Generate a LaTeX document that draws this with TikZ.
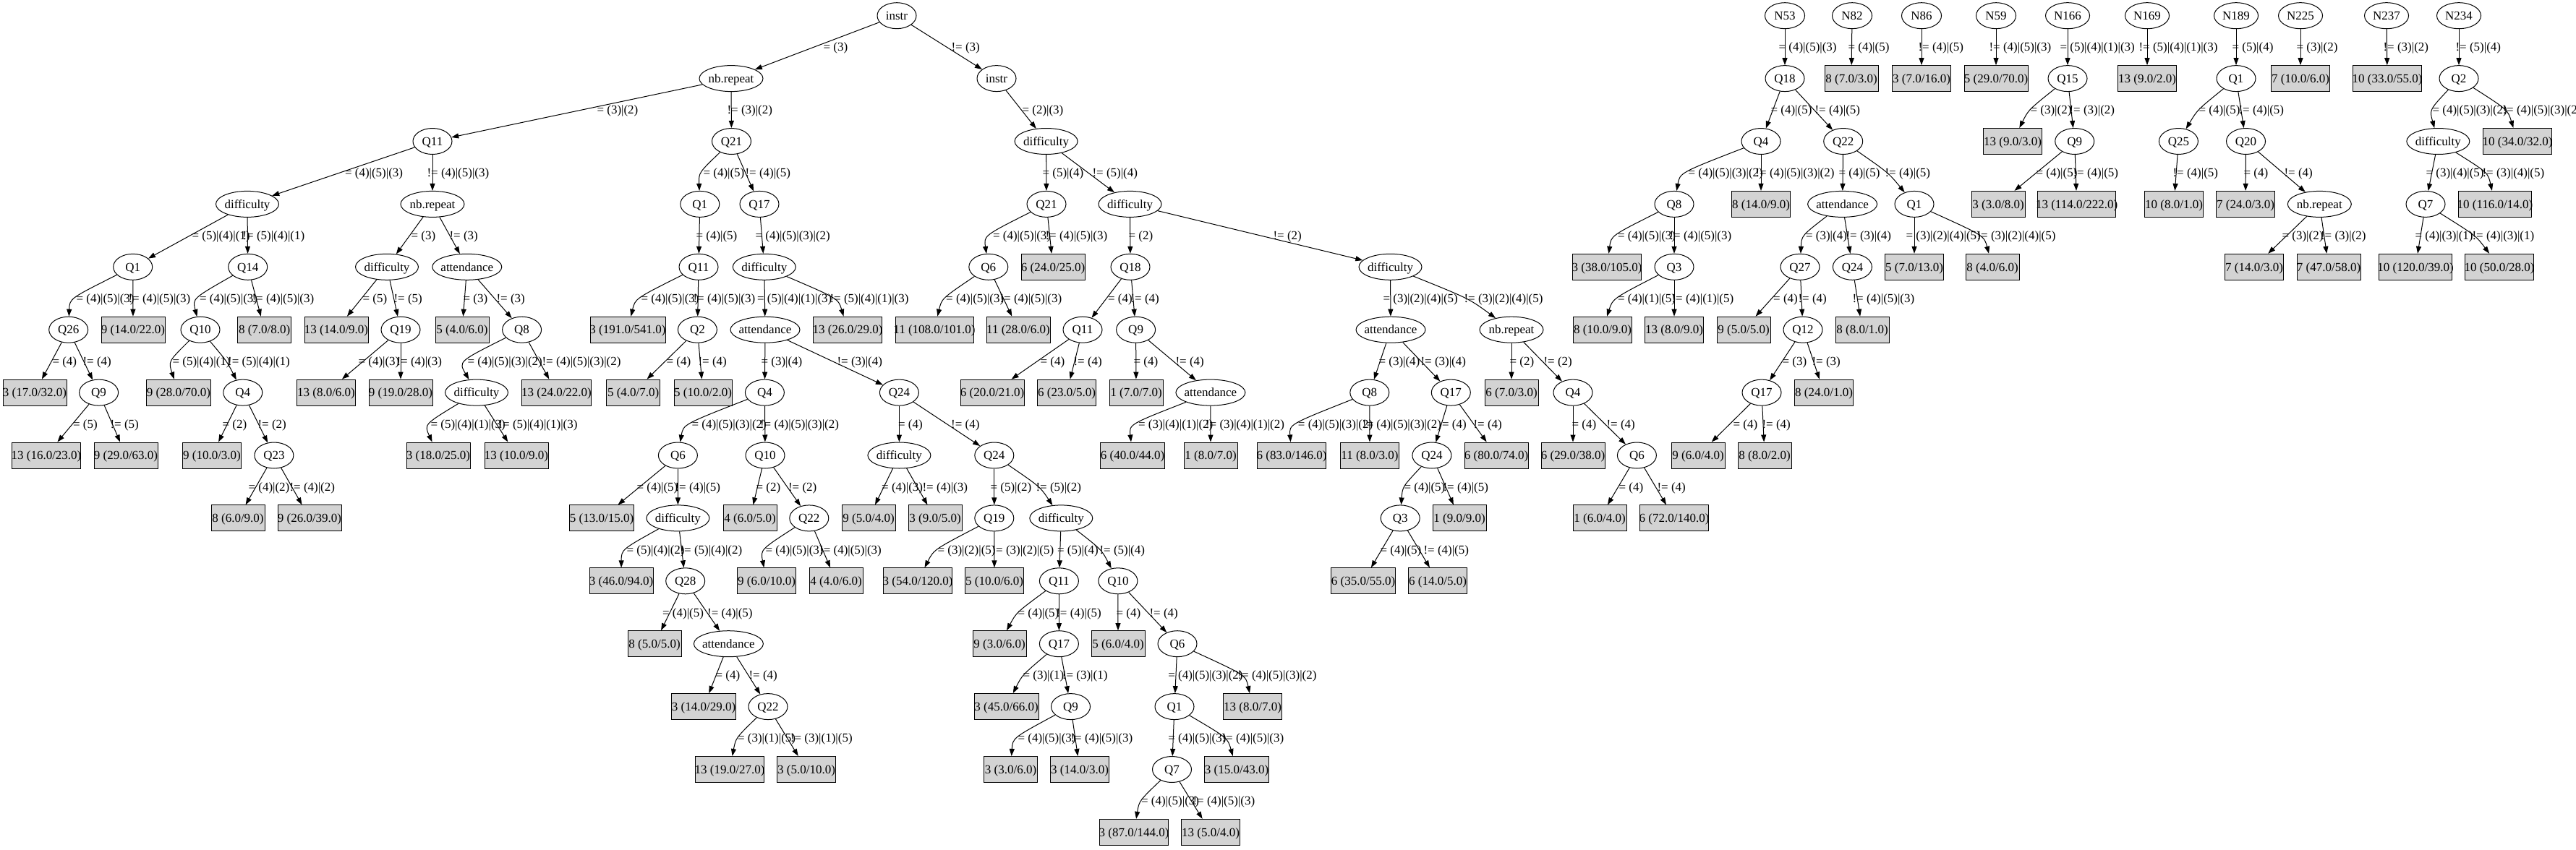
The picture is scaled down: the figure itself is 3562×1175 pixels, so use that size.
\documentclass[tikz,border=0pt]{standalone}
\usepackage{fontspec}
\setmainfont{Liberation Serif}
\usetikzlibrary{shapes.geometric,arrows.meta,calc}
\definecolor{leafgray}{RGB}{211,211,211}
\tikzset{
  base/.style={font=\fontsize{17}{20}\selectfont, text height=11.5pt, text depth=0pt, inner sep=0pt, line width=1pt},
  qn/.style={base, ellipse, draw, minimum height=36pt, minimum width=54pt},
  lf/.style={base, rectangle, draw, fill=leafgray, minimum height=36pt},
  lbl/.style={base, anchor=west},
  arr/.style={line width=1pt, -{Triangle[length=10pt,width=7pt]}},
}
\newcommand\EN[4]{\node[qn,minimum width=#4pt] (#1) at (#2) {\makebox[0pt]{#3}};}
\newcommand\LF[4]{\node[lf,minimum width=#4pt] (#1) at (#2) {\makebox[0pt]{#3}};}
\newcommand\SE[5]{\draw[arr] (#1) -- (#2); \node[lbl] (L#2) at (#3,#4) {#5};}
\newcommand\CE[6]{\coordinate (M#2) at (#3,#4); \draw[arr] (#1) .. controls ($1.3333*(M#2)-0.16667*(#1)-0.16667*(#2)$) .. (#2); \node[lbl] (L#2) at (#5,#4) {#6};}
\begin{document}
\begin{tikzpicture}[x=1pt,y=-1pt]
\useasboundingbox (0,0) rectangle (3562,1175);
% level 0
\EN{r}{1240,21.7}{instr}{54}
\EN{a53}{2468,21.7}{N53}{55}
\EN{a82}{2561,21.7}{N82}{55}
\EN{a86}{2657,21.7}{N86}{55}
\EN{a59}{2760,21.7}{N59}{55}
\EN{a166}{2859,21.7}{N166}{61}
\EN{a169}{2969,21.7}{N169}{61}
\EN{a189}{3092,21.7}{N189}{61}
\EN{a225}{3181,21.7}{N225}{61}
\EN{a237}{3300,21.7}{N237}{61}
\EN{a234}{3400,21.7}{N234}{61}
% level 1
\EN{b1}{1011,108.6}{nb.repeat}{88}
\EN{b2}{1378,108.6}{instr}{54}
\EN{b3}{2468,108.6}{Q18}{54}
\LF{b4}{2560,108.6}{8 (7.0/3.0)}{74}
\LF{b5}{2657,108.6}{3 (7.0/16.0)}{81}
\LF{b6}{2760,108.6}{5 (29.0/70.0)}{88}
\EN{b7}{2859,108.6}{Q15}{54}
\LF{b8}{2969,108.6}{13 (9.0/2.0)}{81}
\EN{b9}{3092,108.6}{Q1}{54}
\LF{b10}{3181,108.6}{7 (10.0/6.0)}{81}
\LF{b11}{3301,108.6}{10 (33.0/55.0)}{95}
\EN{b12}{3400,108.6}{Q2}{54}
% level 2
\EN{c1}{598,195.5}{Q11}{54}
\EN{c2}{1011.5,195.5}{Q21}{54}
\EN{c3}{1446.6,195.5}{difficulty}{87}
\EN{c4}{2435,195.5}{Q4}{54}
\EN{c5}{2548.7,195.5}{Q22}{54}
\LF{c6}{2783,195.5}{13 (9.0/3.0)}{81}
\EN{c7}{2868.7,195.5}{Q9}{54}
\EN{c8}{3012.4,195.5}{Q25}{54}
\EN{c9}{3105.5,195.5}{Q20}{54}
\EN{c10}{3371.3,195.5}{difficulty}{87}
\LF{c11}{3481,195.5}{10 (34.0/32.0)}{95}
% level 3
\EN{d1}{342,282.4}{difficulty}{87}
\EN{d2}{598,282.4}{nb.repeat}{88}
\EN{d3}{967.8,282.4}{Q1}{54}
\EN{d4}{1050,282.4}{Q17}{54}
\EN{d5}{1447,282.4}{Q21}{54}
\EN{d6}{1562.5,282.4}{difficulty}{87}
\EN{d7}{2315,282.4}{Q8}{54}
\LF{d8}{2435,282.4}{8 (14.0/9.0)}{81}
\EN{d9}{2547.6,282.4}{attendance}{96}
\EN{d10}{2647,282.4}{Q1}{54}
\LF{d11}{2763,282.4}{3 (3.0/8.0)}{74}
\LF{d12}{2871.6,282.4}{13 (114.0/222.0)}{108}
\LF{d13}{3006,282.4}{10 (8.0/1.0)}{81}
\LF{d14}{3105,282.4}{7 (24.0/3.0)}{81}
\EN{d15}{3207.3,282.4}{nb.repeat}{88}
\EN{d16}{3354,282.4}{Q7}{54}
\LF{d17}{3450,282.4}{10 (116.0/14.0)}{101}
% level 4
\EN{e1}{183.7,369.3}{Q1}{54}
\EN{e2}{342.7,369.3}{Q14}{54}
\EN{e3}{535,369.3}{difficulty}{87}
\EN{e4}{645.8,369.3}{attendance}{96}
\EN{e5}{966,369.3}{Q11}{54}
\EN{e6}{1056.8,369.3}{difficulty}{87}
\EN{e7}{1366.8,369.3}{Q6}{54}
\LF{e8}{1456,369.3}{6 (24.0/25.0)}{88}
\EN{e9}{1563,369.3}{Q18}{54}
\EN{e10}{1922.5,369.3}{difficulty}{87}
\LF{e11}{2222,369.3}{3 (38.0/105.0)}{95}
\EN{e12}{2315,369.3}{Q3}{54}
\EN{e13}{2489,369.3}{Q27}{54}
\EN{e14}{2561.4,369.3}{Q24}{54}
\LF{e15}{2647,369.3}{5 (7.0/13.0)}{81}
\LF{e16}{2755,369.3}{8 (4.0/6.0)}{74}
\LF{e17}{3117,369.3}{7 (14.0/3.0)}{81}
\LF{e18}{3220,369.3}{7 (47.0/58.0)}{88}
\LF{e19}{3340,369.3}{10 (120.0/39.0)}{101}
\LF{e20}{3456,369.3}{10 (50.0/28.0)}{95}
% level 5
\EN{f1}{94.7,456.2}{Q26}{54}
\LF{f2}{184,456.2}{9 (14.0/22.0)}{88}
\EN{f3}{277,456.2}{Q10}{54}
\LF{f4}{365.7,456.2}{8 (7.0/8.0)}{74}
\LF{f5}{465,456.2}{13 (14.0/9.0)}{88}
\EN{f6}{554,456.2}{Q19}{54}
\LF{f7}{639,456.2}{5 (4.0/6.0)}{74}
\EN{f8}{721.6,456.2}{Q8}{54}
\LF{f9}{868,456.2}{3 (191.0/541.0)}{104}
\EN{f10}{964.4,456.2}{Q2}{54}
\EN{f11}{1058,456.2}{attendance}{96}
\LF{f12}{1172,456.2}{13 (26.0/29.0)}{95}
\LF{f13}{1292,456.2}{11 (108.0/101.0)}{108}
\LF{f14}{1408,456.2}{11 (28.0/6.0)}{88}
\EN{f15}{1497,456.2}{Q11}{54}
\EN{f16}{1570.6,456.2}{Q9}{54}
\EN{f17}{1923,456.2}{attendance}{96}
\EN{f18}{2090,456.2}{nb.repeat}{88}
\LF{f19}{2216,456.2}{8 (10.0/9.0)}{81}
\LF{f20}{2315,456.2}{13 (8.0/9.0)}{81}
\LF{f21}{2411,456.2}{9 (5.0/5.0)}{74}
\EN{f22}{2493,456.2}{Q12}{54}
\LF{f23}{2575,456.2}{8 (8.0/1.0)}{74}
% level 6
\LF{g1}{48,543.1}{3 (17.0/32.0)}{88}
\EN{g2}{136.6,543.1}{Q9}{54}
\LF{g3}{247,543.1}{9 (28.0/70.0)}{89}
\EN{g4}{335.8,543.1}{Q4}{54}
\LF{g5}{451,543.1}{13 (8.0/6.0)}{81}
\LF{g6}{554,543.1}{9 (19.0/28.0)}{88}
\EN{g7}{659,543.1}{difficulty}{87}
\LF{g8}{769.5,543.1}{13 (24.0/22.0)}{96}
\LF{g9}{875.7,543.1}{5 (4.0/7.0)}{74}
\LF{g10}{972,543.1}{5 (10.0/2.0)}{80}
\EN{g11}{1057.4,543.1}{Q4}{54}
\EN{g12}{1243.4,543.1}{Q24}{54}
\LF{g13}{1372,543.1}{6 (20.0/21.0)}{88}
\LF{g14}{1475,543.1}{6 (23.0/5.0)}{81}
\LF{g15}{1571,543.1}{1 (7.0/7.0)}{74}
\EN{g16}{1673.9,543.1}{attendance}{96}
\EN{g17}{1893.8,543.1}{Q8}{54}
\EN{g18}{2006.3,543.1}{Q17}{54}
\LF{g19}{2090,543.1}{6 (7.0/3.0)}{74}
\EN{g20}{2175,543.1}{Q4}{54}
\EN{g21}{2436,543.1}{Q17}{54}
\LF{g22}{2522,543.1}{8 (24.0/1.0)}{81}
% level 7
\LF{h1}{64,630}{13 (16.0/23.0)}{95}
\LF{h2}{174,630}{9 (29.0/63.0)}{88}
\LF{h3}{293,630}{9 (10.0/3.0)}{81}
\EN{h4}{378.9,630}{Q23}{54}
\LF{h5}{606,630}{3 (18.0/25.0)}{88}
\LF{h6}{714,630}{13 (10.0/9.0)}{88}
\EN{h7}{937.4,630}{Q6}{54}
\EN{h8}{1058,630}{Q10}{54}
\EN{h9}{1243.4,630}{difficulty}{87}
\EN{h10}{1374.8,630}{Q24}{54}
\LF{h11}{1566,630}{6 (40.0/44.0)}{89}
\LF{h12}{1674,630}{1 (8.0/7.0)}{74}
\LF{h13}{1786,630}{6 (83.0/146.0)}{95}
\LF{h14}{1894,630}{11 (8.0/3.0)}{81}
\EN{h15}{1979.9,630}{Q24}{54}
\LF{h16}{2069,630}{6 (80.0/74.0)}{88}
\LF{h17}{2175,630}{6 (29.0/38.0)}{88}
\EN{h18}{2263.4,630}{Q6}{54}
\LF{h19}{2348,630}{9 (6.0/4.0)}{74}
\LF{h20}{2440,630}{8 (8.0/2.0)}{74}
% level 8
\LF{i1}{329,716.9}{8 (6.0/9.0)}{74}
\LF{i2}{428,716.9}{9 (26.0/39.0)}{88}
\LF{i3}{832,716.9}{5 (13.0/15.0)}{89}
\EN{i4}{937.4,716.9}{difficulty}{87}
\LF{i5}{1037,716.9}{4 (6.0/5.0)}{74}
\EN{i6}{1118.8,716.9}{Q22}{54}
\LF{i7}{1201,716.9}{9 (5.0/4.0)}{74}
\LF{i8}{1293,716.9}{3 (9.0/5.0)}{74}
\EN{i9}{1374.8,716.9}{Q19}{54}
\EN{i10}{1467.3,716.9}{difficulty}{87}
\EN{i11}{1936.2,716.9}{Q3}{54}
\LF{i12}{2018,716.9}{1 (9.0/9.0)}{74}
\LF{i13}{2212,716.9}{1 (6.0/4.0)}{74}
\LF{i14}{2315,716.9}{6 (72.0/140.0)}{95}
% level 9
\LF{j1}{859,803.8}{3 (46.0/94.0)}{88}
\EN{j2}{947.7,803.8}{Q28}{54}
\LF{j3}{1060,803.8}{9 (6.0/10.0)}{81}
\LF{j4}{1156,803.8}{4 (4.0/6.0)}{74}
\LF{j5}{1269,803.8}{3 (54.0/120.0)}{95}
\LF{j6}{1375,803.8}{5 (10.0/6.0)}{81}
\EN{j7}{1464.4,803.8}{Q11}{54}
\EN{j8}{1545.9,803.8}{Q10}{54}
\LF{j9}{1885,803.8}{6 (35.0/55.0)}{89}
\LF{j10}{1988,803.8}{6 (14.0/5.0)}{81}
% level 10
\LF{k1}{905,890.7}{8 (5.0/5.0)}{74}
\EN{k2}{1007.4,890.7}{attendance}{96}
\LF{k3}{1382,890.7}{9 (3.0/6.0)}{74}
\EN{k4}{1464.4,890.7}{Q17}{54}
\LF{k5}{1546,890.7}{5 (6.0/4.0)}{74}
\EN{k6}{1628,890.7}{Q6}{54}
% level 11
\LF{l1}{973,977.6}{3 (14.0/29.0)}{89}
\EN{l2}{1062,977.6}{Q22}{54}
\LF{l3}{1391.5,977.6}{3 (45.0/66.0)}{89}
\EN{l4}{1480.5,977.6}{Q9}{54}
\EN{l5}{1624,977.6}{Q1}{54}
\LF{l6}{1732,977.6}{13 (8.0/7.0)}{81}
% level 12
\LF{m1}{1009,1064.5}{13 (19.0/27.0)}{95}
\LF{m2}{1115,1064.5}{3 (5.0/10.0)}{81}
\LF{m3}{1397.5,1064.5}{3 (3.0/6.0)}{74}
\LF{m4}{1493,1064.5}{3 (14.0/3.0)}{81}
\EN{m5}{1620.5,1064.5}{Q7}{54}
\LF{m6}{1710,1064.5}{3 (15.0/43.0)}{89}
% level 13
\LF{n1}{1568,1151.4}{3 (87.0/144.0)}{95}
\LF{n2}{1674,1151.4}{13 (5.0/4.0)}{81}
% edges 0-1
\SE{r}{b1}{1138}{65}{= (3)}
\SE{r}{b2}{1315}{65}{!= (3)}
\SE{a53}{b3}{2459}{65}{= (4)|(5)|(3)}
\SE{a82}{b4}{2555}{65}{= (4)|(5)}
\SE{a86}{b5}{2652}{65}{!= (4)|(5)}
\SE{a59}{b6}{2750}{65}{!= (4)|(5)|(3)}
\SE{a166}{b7}{2848}{65}{= (5)|(4)|(1)|(3)}
\SE{a169}{b8}{2957}{65}{!= (5)|(4)|(1)|(3)}
\SE{a189}{b9}{3086}{65}{= (5)|(4)}
\SE{a225}{b10}{3175}{65}{= (3)|(2)}
\SE{a237}{b11}{3295}{65}{!= (3)|(2)}
\SE{a234}{b12}{3395}{65}{!= (5)|(4)}
% edges 1-2
\SE{b1}{c1}{825}{152}{= (3)|(2)}
\SE{b1}{c2}{1005}{152}{!= (3)|(2)}
\SE{b2}{c3}{1413}{152}{= (2)|(3)}
\SE{b3}{c4}{2448}{152}{= (4)|(5)}
\SE{b3}{c5}{2509}{152}{!= (4)|(5)}
\CE{b7}{c6}{2809}{152}{2807}{= (3)|(2)}
\SE{b7}{c7}{2861}{152}{!= (3)|(2)}
\CE{b9}{c8}{3042}{152}{3040}{= (4)|(5)}
\SE{b9}{c9}{3095}{152}{!= (4)|(5)}
\CE{b12}{c10}{3366}{152}{3363}{= (4)|(5)|(3)|(2)}
\CE{b12}{c11}{3461}{152}{3460}{!= (4)|(5)|(3)|(2)}
% edges 2-3
\SE{c1}{d1}{476.5}{239}{= (4)|(5)|(3)}
\SE{c1}{d2}{590}{239}{!= (4)|(5)|(3)}
\CE{c2}{d3}{972}{239}{972}{= (4)|(5)}
\SE{c2}{d4}{1030}{239}{!= (4)|(5)}
\SE{c3}{d5}{1441}{239}{= (5)|(4)}
\SE{c3}{d6}{1510}{239}{!= (5)|(4)}
\CE{c4}{d7}{2336}{239}{2334}{= (4)|(5)|(3)|(2)}
\SE{c4}{d8}{2427}{239}{!= (4)|(5)|(3)|(2)}
\SE{c5}{d9}{2542}{239}{= (4)|(5)}
\CE{c5}{d10}{2608}{239}{2606}{!= (4)|(5)}
\SE{c7}{d11}{2815}{239}{= (4)|(5)}
\SE{c7}{d12}{2866}{239}{!= (4)|(5)}
\SE{c8}{d13}{3004}{239}{!= (4)|(5)}
\SE{c9}{d14}{3102}{239}{= (4)}
\SE{c9}{d15}{3158}{239}{!= (4)}
\SE{c10}{d16}{3354}{239}{= (3)|(4)|(5)}
\CE{c10}{d17}{3433}{239}{3432}{!= (3)|(4)|(5)}
% edges 3-4
\SE{d1}{e1}{265}{326}{= (5)|(4)|(1)}
\SE{d1}{e2}{335}{326}{!= (5)|(4)|(1)}
\SE{d2}{e3}{568}{326}{= (3)}
\SE{d2}{e4}{621}{326}{!= (3)}
\SE{d3}{e5}{962}{326}{= (4)|(5)}
\SE{d4}{e6}{1044}{326}{= (4)|(5)|(3)|(2)}
\CE{d5}{e7}{1372}{326}{1372.5}{= (4)|(5)|(3)}
\SE{d5}{e8}{1445}{326}{!= (4)|(5)|(3)}
\SE{d6}{e9}{1560}{326}{= (2)}
\SE{d6}{e10}{1760}{326}{!= (2)}
\CE{d7}{e11}{2238}{326}{2236.5}{= (4)|(5)|(3)}
\SE{d7}{e12}{2308}{326}{!= (4)|(5)|(3)}
\CE{d9}{e13}{2498}{326}{2496.5}{= (3)|(4)}
\SE{d9}{e14}{2552}{326}{!= (3)|(4)}
\SE{d10}{e15}{2635}{326}{= (3)|(2)|(4)|(5)}
\CE{d10}{e16}{2733}{326}{2733}{!= (3)|(2)|(4)|(5)}
\SE{d15}{e17}{3155}{326}{= (3)|(2)}
\SE{d15}{e18}{3208.5}{326}{!= (3)|(2)}
\SE{d16}{e19}{3339}{326}{= (4)|(3)|(1)}
\CE{d16}{e20}{3419}{326}{3418}{!= (4)|(3)|(1)}
% edges 4-5
\CE{e1}{f1}{107}{413}{105}{= (4)|(5)|(3)}
\SE{e1}{f2}{177}{413}{!= (4)|(5)|(3)}
\CE{e2}{f3}{277}{413}{275.5}{= (4)|(5)|(3)}
\SE{e2}{f4}{348}{413}{!= (4)|(5)|(3)}
\SE{e3}{f5}{501}{413}{= (5)}
\SE{e3}{f6}{544}{413}{!= (5)}
\SE{e4}{f7}{640}{413}{= (3)}
\SE{e4}{f8}{686}{413}{!= (3)}
\CE{e5}{f9}{888}{413}{886}{= (4)|(5)|(3)}
\SE{e5}{f10}{958}{413}{!= (4)|(5)|(3)}
\SE{e6}{f11}{1046.5}{413}{= (5)|(4)|(1)|(3)}
\CE{e6}{f12}{1148}{413}{1147}{!= (5)|(4)|(1)|(3)}
\CE{e7}{f13}{1309}{413}{1307.7}{= (4)|(5)|(3)}
\SE{e7}{f14}{1382}{413}{!= (4)|(5)|(3)}
\SE{e9}{f15}{1531.6}{413}{= (4)}
\SE{e9}{f16}{1563}{413}{!= (4)}
\SE{e10}{f17}{1912}{413}{= (3)|(2)|(4)|(5)}
\CE{e10}{f18}{2025}{413}{2024}{!= (3)|(2)|(4)|(5)}
\CE{e12}{f19}{2239}{413}{2236.5}{= (4)|(1)|(5)}
\SE{e12}{f20}{2311}{413}{!= (4)|(1)|(5)}
\SE{e13}{f21}{2451.7}{413}{= (4)}
\SE{e13}{f22}{2486}{413}{!= (4)}
\SE{e14}{f23}{2561}{413}{!= (4)|(5)|(3)}
% edges 5-6
\SE{f1}{g1}{72}{500}{= (4)}
\SE{f1}{g2}{114}{500}{!= (4)}
\CE{f3}{g3}{240}{500}{238}{= (5)|(4)|(1)}
\CE{f3}{g4}{312}{500}{314.6}{!= (5)|(4)|(1)}
\SE{f6}{g5}{495}{500}{= (4)|(3)}
\SE{f6}{g6}{548}{500}{!= (4)|(3)}
\CE{f8}{g7}{648}{500}{646}{= (4)|(5)|(3)|(2)}
\SE{f8}{g8}{749}{500}{!= (4)|(5)|(3)|(2)}
\SE{f10}{g9}{921}{500}{= (4)}
\SE{f10}{g10}{965}{500}{!= (4)}
\SE{f11}{g11}{1052}{500}{= (3)|(4)}
\SE{f11}{g12}{1157}{500}{!= (3)|(4)}
\SE{f15}{g13}{1438}{500}{= (4)}
\SE{f15}{g14}{1484}{500}{!= (4)}
\SE{f16}{g15}{1567}{500}{= (4)}
\SE{f16}{g16}{1625}{500}{!= (4)}
\SE{f17}{g17}{1906}{500}{= (3)|(4)}
\SE{f17}{g18}{1964}{500}{!= (3)|(4)}
\SE{f18}{g19}{2087}{500}{= (2)}
\SE{f18}{g20}{2134}{500}{!= (2)}
\SE{f22}{g21}{2464}{500}{= (3)}
\SE{f22}{g22}{2505}{500}{!= (3)}
% edges 6-7
\SE{g2}{h1}{100.5}{587}{= (5)}
\SE{g2}{h2}{152}{587}{!= (5)}
\SE{g4}{h3}{307}{587}{= (2)}
\SE{g4}{h4}{356}{587}{!= (2)}
\CE{g7}{h5}{598}{587}{595}{= (5)|(4)|(1)|(3)}
\SE{g7}{h6}{689}{587}{!= (5)|(4)|(1)|(3)}
\CE{g11}{h7}{958}{587}{956}{= (4)|(5)|(3)|(2)}
\SE{g11}{h8}{1050.5}{587}{!= (4)|(5)|(3)|(2)}
\SE{g12}{h9}{1241.6}{587}{= (4)}
\SE{g12}{h10}{1314.6}{587}{!= (4)}
\CE{g16}{h11}{1576}{587}{1573.5}{= (3)|(4)|(1)|(2)}
\SE{g16}{h12}{1666.5}{587}{!= (3)|(4)|(1)|(2)}
\CE{g17}{h13}{1797}{587}{1794.4}{= (4)|(5)|(3)|(2)}
\SE{g17}{h14}{1883.4}{587}{!= (4)|(5)|(3)|(2)}
\SE{g18}{h15}{1993.6}{587}{= (4)}
\SE{g18}{h16}{2037}{587}{!= (4)}
\SE{g20}{h17}{2173}{587}{= (4)}
\SE{g20}{h18}{2221}{587}{!= (4)}
\SE{g21}{h19}{2396}{587}{= (4)}
\SE{g21}{h20}{2436}{587}{!= (4)}
% edges 7-8
\SE{h4}{i1}{343}{673.5}{= (4)|(2)}
\SE{h4}{i2}{400}{673.5}{!= (4)|(2)}
\SE{h7}{i3}{880}{673.5}{= (4)|(5)}
\SE{h7}{i4}{933}{673.5}{!= (4)|(5)}
\SE{h8}{i5}{1045}{673.5}{= (2)}
\SE{h8}{i6}{1089.5}{673.5}{!= (2)}
\SE{h9}{i7}{1218.7}{673.5}{= (4)|(3)}
\SE{h9}{i8}{1275}{673.5}{!= (4)|(3)}
\SE{h10}{i9}{1369}{673.5}{= (5)|(2)}
\CE{h10}{i10}{1434}{673.5}{1432}{!= (5)|(2)}
\CE{h15}{i11}{1944}{673.5}{1941}{= (4)|(5)}
\SE{h15}{i12}{1995}{673.5}{!= (4)|(5)}
\SE{h18}{i13}{2238}{673.5}{= (4)}
\SE{h18}{i14}{2291}{673.5}{!= (4)}
% edges 8-9
\CE{i4}{j1}{869}{760.4}{866}{= (5)|(4)|(2)}
\SE{i4}{j2}{940}{760.4}{!= (5)|(4)|(2)}
\CE{i6}{j3}{1061}{760.4}{1058}{= (4)|(5)|(3)}
\SE{i6}{j4}{1132.6}{760.4}{!= (4)|(5)|(3)}
\CE{i9}{j5}{1299}{760.4}{1296}{= (3)|(2)|(5)}
\SE{i9}{j6}{1371}{760.4}{!= (3)|(2)|(5)}
\SE{i10}{j7}{1461.5}{760.4}{= (5)|(4)}
\CE{i10}{j8}{1519}{760.4}{1520}{!= (5)|(4)}
\SE{i11}{j9}{1908}{760.4}{= (4)|(5)}
\SE{i11}{j10}{1968}{760.4}{!= (4)|(5)}
% edges 9-10
\SE{j2}{k1}{915.6}{847.3}{= (4)|(5)}
\SE{j2}{k2}{977.6}{847.3}{!= (4)|(5)}
\CE{j7}{k3}{1410}{847.3}{1407}{= (4)|(5)}
\SE{j7}{k4}{1459.8}{847.3}{!= (4)|(5)}
\SE{j8}{k5}{1543}{847.3}{= (4)}
\SE{j8}{k6}{1589}{847.3}{!= (4)}
% edges 10-11
\SE{k2}{l1}{989}{934.2}{= (4)}
\SE{k2}{l2}{1035}{934.2}{!= (4)}
\CE{k4}{l3}{1417}{934.2}{1414}{= (3)|(1)}
\SE{k4}{l4}{1468.4}{934.2}{!= (3)|(1)}
\SE{k6}{l5}{1614.8}{934.2}{= (4)|(5)|(3)|(2)}
\CE{k6}{l6}{1712}{934.2}{1711}{!= (4)|(5)|(3)|(2)}
% edges 11-12
\CE{l2}{m1}{1022}{1021}{1019.5}{= (3)|(1)|(5)}
\SE{l2}{m2}{1092.4}{1021}{!= (3)|(1)|(5)}
\CE{l4}{m3}{1410}{1021}{1407}{= (4)|(5)|(3)}
\SE{l4}{m4}{1480}{1021}{!= (4)|(5)|(3)}
\SE{l5}{m5}{1614.8}{1021}{= (4)|(5)|(3)}
\CE{l5}{m6}{1690}{1021}{1689}{!= (4)|(5)|(3)}
% edges 12-13
\CE{m5}{n1}{1580}{1108}{1577.5}{= (4)|(5)|(3)}
\SE{m5}{n2}{1649}{1108}{!= (4)|(5)|(3)}
\end{tikzpicture}
\end{document}
